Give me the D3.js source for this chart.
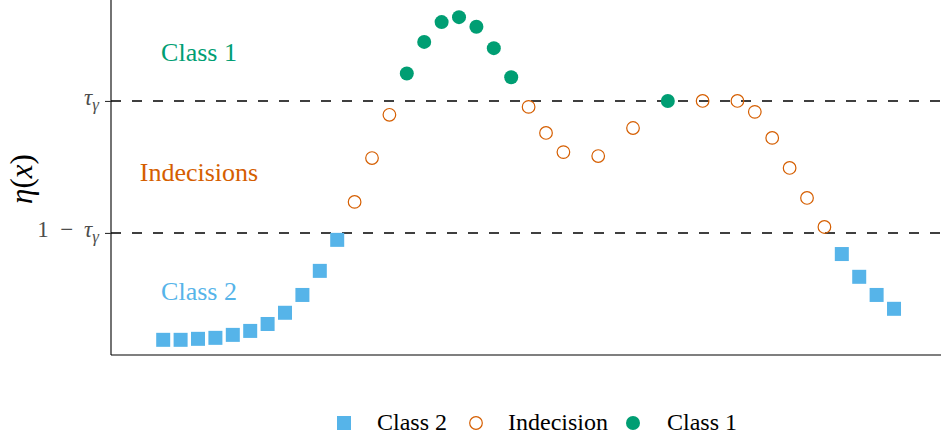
<!DOCTYPE html>
<html lang="en">
<head>
<meta charset="UTF-8">
<title>eta(x) decisions</title>
<style>
    body { margin: 0; background: #fff; }
    svg { display: block; font-family: "Liberation Serif", "DejaVu Serif", serif; }
</style>
</head>
<body>
<svg width="941" height="438"></svg>
<script src="https://d3js.org/d3.v7.min.js"></script>
<script>
// data (x = sample index, y = eta(x))
const class2X = [0, 1, 2, 3, 4, 5, 6, 7, 8, 9, 10, 39, 40, 41, 42];
const class2Y = [-0.024, -0.024, -0.021, -0.018, -0.009, 0.003, 0.024, 0.058, 0.112, 0.185, 0.279, 0.236, 0.167, 0.112, 0.070];
const indecX = [11, 12, 13, 21, 22, 23, 25, 27, 31, 33, 34, 35, 36, 37, 38];
const indecY = [0.394, 0.527, 0.658, 0.682, 0.603, 0.545, 0.533, 0.618, 0.700, 0.700, 0.667, 0.588, 0.497, 0.406, 0.318];
const class1X = [14, 15, 16, 17, 18, 19, 20, 29];
const class1Y = [0.783, 0.879, 0.939, 0.954, 0.925, 0.860, 0.772, 0.700];
const tau = 0.7;
const thresholds = [tau, 1 - tau];
const legendLabels = ["Class 2", "Indecision", "Class 1"];

const col2 = "#56B4E9", colI = "#D55E00", col1 = "#009E73";

const svg = d3.select("svg");
const x = d3.scaleLinear().domain([-3, 44.7]).range([111, 941]);
const y = d3.scaleLinear().domain([-0.07, 1.006]).range([355, 0]);

// axes
svg.append("line").attr("x1", 111).attr("x2", 941).attr("y1", 355).attr("y2", 355)
    .attr("stroke", "#000").attr("stroke-width", 1.1);
svg.append("g").attr("transform", "translate(111,0)")
    .call(d3.axisLeft(y).tickValues(thresholds).tickFormat("").tickSize(6).tickSizeOuter(0))
    .call(g => g.select(".domain").attr("d", "M0,0V355").attr("stroke-width", 1.1))
    .call(g => g.selectAll(".tick line").attr("stroke", "#333").attr("stroke-width", 1.1));

// tick labels tau_gamma, 1 - tau_gamma
function mathLabel(sel, prefix) {
    const t = sel.append("text").attr("fill", "#4d4d4d").attr("font-size", 23).attr("text-anchor", "end");
    if (prefix) t.append("tspan").text(prefix);
    t.append("tspan").attr("font-style", "italic").attr("dx", prefix ? 5 : 0).text("τ");
    t.append("tspan").attr("font-style", "italic").attr("font-size", 17).attr("dy", 5).text("γ");
    return t;
}
mathLabel(svg, null).attr("x", 99).attr("y", y(tau) + 4);
mathLabel(svg, "1 \u00a0− ").attr("x", 99).attr("y", y(1 - tau) + 4);

// y axis title
const yt = svg.append("text").attr("transform", "translate(32,179) rotate(-90)")
    .attr("text-anchor", "middle").attr("font-size", 31).attr("fill", "#000");
yt.append("tspan").attr("font-style", "italic").text("η");
yt.append("tspan").text("(");
yt.append("tspan").attr("font-style", "italic").text("x");
yt.append("tspan").text(")");

// threshold lines
svg.selectAll(".thr").data(thresholds).enter().append("line")
    .attr("x1", 111).attr("x2", 941)
    .attr("y1", d => y(d)).attr("y2", d => y(d))
    .attr("stroke", "#000").attr("stroke-width", 1.4).attr("stroke-dasharray", "10,11");

// region labels
const regions = [
    { text: "Class 1", v: 0.821, c: col1 },
    { text: "Indecisions", v: 0.458, c: colI },
    { text: "Class 2", v: 0.097, c: col2 }
];
svg.selectAll(".reg").data(regions).enter().append("text")
    .attr("x", 199).attr("y", d => y(d.v)).attr("text-anchor", "middle")
    .attr("font-size", 26).attr("fill", d => d.c).text(d => d.text);

// points
svg.selectAll(".sq").data(class2X).enter().append("rect")
    .attr("x", d => x(d) - 7).attr("y", (d, i) => y(class2Y[i]) - 7)
    .attr("width", 14).attr("height", 14).attr("fill", col2);
svg.selectAll(".oc").data(indecX).enter().append("circle")
    .attr("cx", d => x(d)).attr("cy", (d, i) => y(indecY[i])).attr("r", 6.3)
    .attr("fill", "none").attr("stroke", colI).attr("stroke-width", 1.2);
svg.selectAll(".fc").data(class1X).enter().append("circle")
    .attr("cx", d => x(d)).attr("cy", (d, i) => y(class1Y[i])).attr("r", 7)
    .attr("fill", col1);

// legend
const lg = svg.append("g").attr("font-size", 24);
lg.append("rect").attr("x", 337).attr("y", 416).attr("width", 14).attr("height", 14).attr("fill", col2);
lg.append("text").attr("x", 377).attr("y", 430).text(legendLabels[0]);
lg.append("circle").attr("cx", 476).attr("cy", 423).attr("r", 6.3).attr("fill", "none").attr("stroke", colI).attr("stroke-width", 1.2);
lg.append("text").attr("x", 508).attr("y", 430).text(legendLabels[1]);
lg.append("circle").attr("cx", 633).attr("cy", 423).attr("r", 7).attr("fill", col1);
lg.append("text").attr("x", 667).attr("y", 430).text(legendLabels[2]);
</script>
</body>
</html>
